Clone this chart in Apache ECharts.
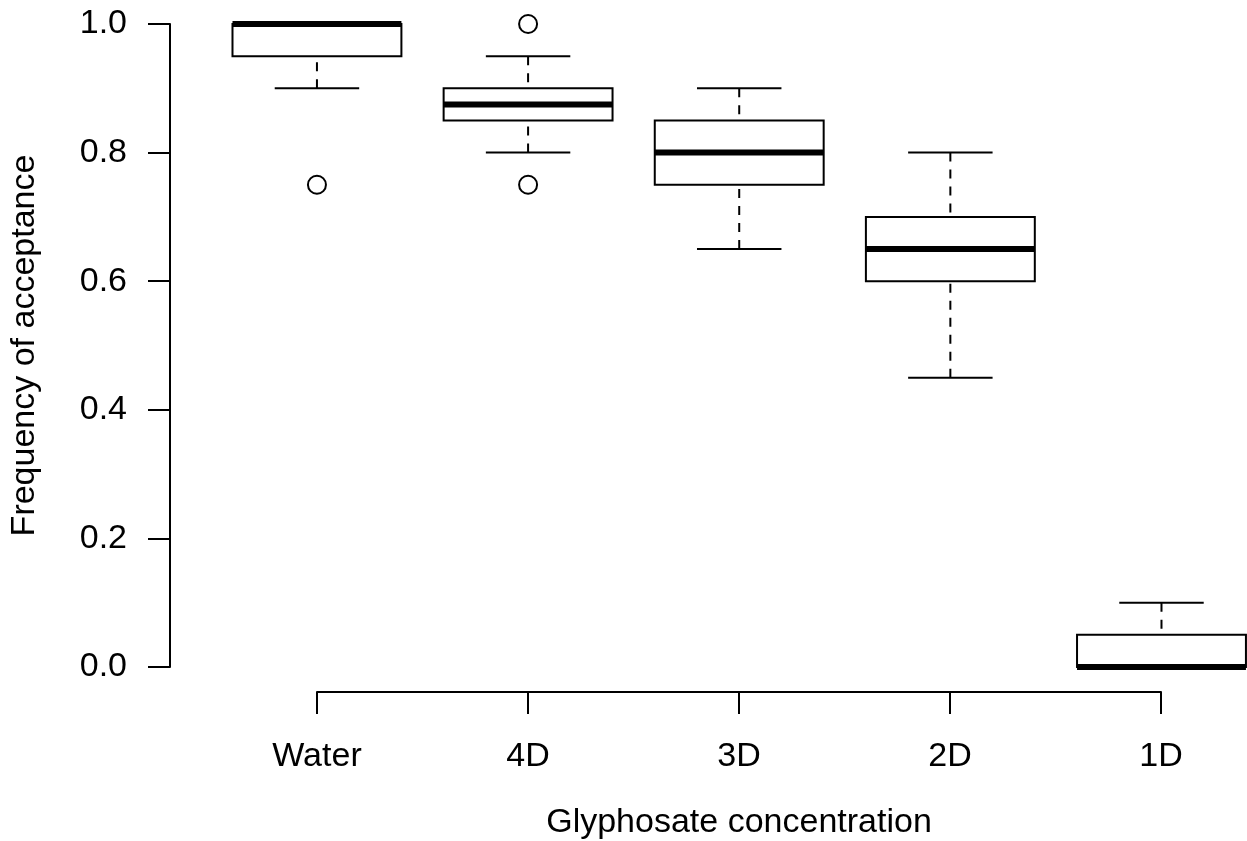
<!DOCTYPE html>
<html>
<head>
<meta charset="utf-8">
<script src="https://cdn.jsdelivr.net/npm/echarts@6/dist/echarts.min.js"></script>
<style>html,body{margin:0;padding:0;background:#fff;}#c{width:1247px;height:841px;}</style>
</head>
<body>
<div id="c"></div>
<script>
var categories = ['Water', '4D', '3D', '2D', '1D'];
var whiskerLow = [0.90, 0.80, 0.65, 0.45, 0.00];
var quart1     = [0.95, 0.85, 0.75, 0.60, 0.00];
var medians    = [1.00, 0.875, 0.80, 0.65, 0.00];
var quart3     = [1.00, 0.90, 0.85, 0.70, 0.05];
var whiskerHigh= [1.00, 0.95, 0.90, 0.80, 0.10];
var outlierCat = ['Water', '4D', '4D'];
var outlierVal = [0.75, 1.00, 0.75];
var yTicks = [0, 0.2, 0.4, 0.6, 0.8, 1.0];

var FONT = '"Liberation Sans", Arial, Helvetica, sans-serif';
var FS = 34;

var boxData = categories.map(function (c, i) {
  return [i + 1, whiskerLow[i], quart1[i], medians[i], quart3[i], whiskerHigh[i]];
});
var outData = outlierCat.map(function (c, i) {
  return [categories.indexOf(c) + 1, outlierVal[i]];
});

function renderBox(params, api) {
  var x = api.value(0);
  var lo = api.coord([x, api.value(1)]);
  var q1 = api.coord([x, api.value(2)]);
  var md = api.coord([x, api.value(3)]);
  var q3 = api.coord([x, api.value(4)]);
  var hi = api.coord([x, api.value(5)]);
  var bw = api.size([0.8, 0])[0];
  var cw = bw / 2;
  var cx = q1[0];
  var lineStyle = { stroke: '#000', lineWidth: 2, fill: null };
  var dashStyle = { stroke: '#000', lineWidth: 2, lineDash: [9, 8] };
  return {
    type: 'group',
    children: [
      { type: 'line', shape: { x1: cx, y1: hi[1], x2: cx, y2: q3[1] }, style: dashStyle },
      { type: 'line', shape: { x1: cx, y1: lo[1], x2: cx, y2: q1[1] }, style: dashStyle },
      { type: 'line', shape: { x1: cx - cw / 2, y1: hi[1], x2: cx + cw / 2, y2: hi[1] }, style: lineStyle },
      { type: 'line', shape: { x1: cx - cw / 2, y1: lo[1], x2: cx + cw / 2, y2: lo[1] }, style: lineStyle },
      { type: 'rect', shape: { x: cx - bw / 2, y: q3[1], width: bw, height: q1[1] - q3[1] },
        style: { stroke: '#000', lineWidth: 2, fill: '#fff' } },
      { type: 'line', shape: { x1: cx - bw / 2, y1: md[1], x2: cx + bw / 2, y2: md[1] },
        style: { stroke: '#000', lineWidth: 6 } }
    ]
  };
}

var chart = echarts.init(document.getElementById('c'));
chart.setOption({
  backgroundColor: '#fff',
  animation: false,
  grid: [
    { left: 170, right: 0, top: 24, bottom: 174 },
    { left: 317, right: 86, top: 691, height: 1 }
  ],
  xAxis: [
    { gridIndex: 0, type: 'value', min: 0.304, max: 5.405, show: false },
    { gridIndex: 1, type: 'category', data: categories, boundaryGap: false, position: 'bottom',
      axisLine: { show: true, lineStyle: { color: '#000', width: 2 } },
      axisTick: { show: true, length: 22, lineStyle: { color: '#000', width: 2 } },
      axisLabel: { show: true, color: '#000', fontSize: FS, fontFamily: FONT, margin: 48 },
      splitLine: { show: false },
      name: 'Glyphosate concentration', nameLocation: 'middle', nameGap: 114,
      nameTextStyle: { color: '#000', fontSize: FS, fontFamily: FONT } }
  ],
  yAxis: [
    { gridIndex: 0, type: 'value', min: 0, max: 1, interval: 0.2,
      axisLine: { show: true, lineStyle: { color: '#000', width: 2 } },
      axisTick: { show: true, length: 22, lineStyle: { color: '#000', width: 2 } },
      axisLabel: { color: '#000', fontSize: FS, fontFamily: FONT, margin: 43,
        formatter: function (v) { return v.toFixed(1); } },
      splitLine: { show: false },
      name: 'Frequency of acceptance', nameLocation: 'middle', nameGap: 128,
      nameTextStyle: { color: '#000', fontSize: FS, fontFamily: FONT } },
    { gridIndex: 1, type: 'value', show: false }
  ],
  series: [
    { type: 'custom', xAxisIndex: 0, yAxisIndex: 0, renderItem: renderBox, data: boxData, clip: false, z: 2 },
    { type: 'scatter', xAxisIndex: 0, yAxisIndex: 0, data: outData, symbol: 'circle', symbolSize: 18, z: 3,
      itemStyle: { color: '#fff', borderColor: '#000', borderWidth: 2, opacity: 1 } }
  ]
});
</script>
</body>
</html>
